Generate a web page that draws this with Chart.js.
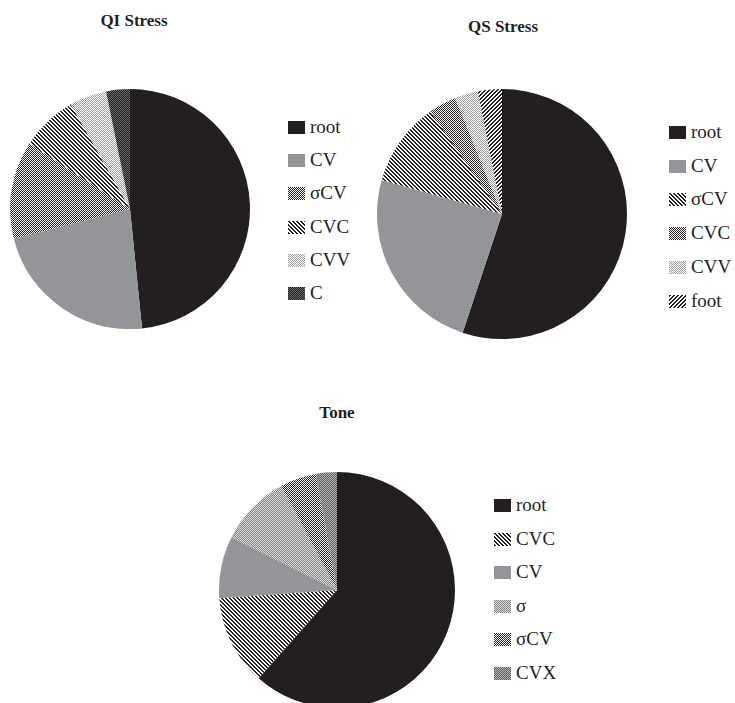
<!DOCTYPE html>
<html>
<head>
<meta charset="utf-8">
<script src="https://cdn.jsdelivr.net/npm/chart.js@4"></script>
<style>
  html, body { margin: 0; padding: 0; background: #fff; overflow: hidden; }
  body { width: 735px; height: 703px; position: relative; font-family: "Liberation Serif", "DejaVu Serif", serif; color: #231f20; }
  canvas.pie { position: absolute; }
  .title { position: absolute; width: 200px; text-align: center; font-weight: bold; font-size: 17px; line-height: 20px; }
  .row { position: absolute; font-size: 19px; line-height: 20px; white-space: nowrap; }
  .row canvas { position: absolute; left: 0; top: 4px; }
  .row span { position: absolute; top: 0; }
</style>
</head>
<body>
<script>
// Data (percent shares)
const qiLabels = ['root', 'CV', 'σCV', 'CVC', 'CVV', 'C'];
const qiValues = [48.4, 22.6, 13.2, 7.6, 5.0, 3.2];

const qsLabels = ['root', 'CV', 'σCV', 'CVC', 'CVV', 'foot'];
const qsValues = [55.1, 24.3, 10.9, 3.6, 3.0, 3.1];

const toneLabels = ['root', 'CVC', 'CV', 'σ', 'σCV', 'CVX'];
const toneValues = [61.5, 12.3, 8.5, 9.8, 4.9, 2.9];

const DARK = '#231f20';
const GRAY = '#939598';

// small bitmap tiles used as fills
function makeTile(kind) {
  const c = document.createElement('canvas');
  const n = kind.startsWith('diag') ? 4 : 2;
  c.width = n; c.height = n;
  const ctx = c.getContext('2d');
  const set = {
    checkMid:   ['#ffffff', DARK],
    checkDark:  ['#6d6a6b', DARK],
    checkLight: ['#ffffff', '#9a9a9a'],
    checkGray:  ['#e2e2e2', '#7c7c7c'],
    checkFine:  ['#b4b4b4', '#5e5e5e'],
    diagBack:   ['#ffffff', DARK],
    diagFwd:    ['#ffffff', DARK]
  }[kind];
  ctx.fillStyle = set[0];
  ctx.fillRect(0, 0, n, n);
  ctx.fillStyle = set[1];
  for (let x = 0; x < n; x++) {
    for (let y = 0; y < n; y++) {
      let on;
      if (kind === 'diagBack') on = ((x - y + 8) % 4) < 2;
      else if (kind === 'diagFwd') on = ((x + y) % 4) < 2;
      else on = (x + y) % 2 === 0;
      if (on) ctx.fillRect(x, y, 1, 1);
    }
  }
  return c;
}

function fillFor(kind, ctx) {
  if (kind === 'dark') return DARK;
  if (kind === 'gray') return GRAY;
  return ctx.createPattern(makeTile(kind), 'repeat');
}

const charts = [
  { title: 'QI Stress', labels: qiLabels, values: qiValues,
    fills: ['dark', 'gray', 'checkMid', 'diagBack', 'checkLight', 'checkDark'],
    cx: 130, cy: 209, r: 120, titleX: 134, titleY: 20.5,
    legX: 288, legY: 127, legStep: 33.2 },
  { title: 'QS Stress', labels: qsLabels, values: qsValues,
    fills: ['dark', 'gray', 'diagBack', 'checkMid', 'checkLight', 'diagFwd'],
    cx: 502, cy: 214, r: 125, titleX: 503, titleY: 27,
    legX: 669, legY: 132, legStep: 33.7 },
  { title: 'Tone', labels: toneLabels, values: toneValues,
    fills: ['dark', 'diagBack', 'gray', 'checkGray', 'checkMid', 'checkFine'],
    cx: 337, cy: 590, r: 118, titleX: 337, titleY: 413,
    legX: 494, legY: 505, legStep: 33.5 }
];

charts.forEach(cfg => {
  // title
  const t = document.createElement('div');
  t.className = 'title';
  t.textContent = cfg.title;
  t.style.left = (cfg.titleX - 100) + 'px';
  t.style.top = (cfg.titleY - 10) + 'px';
  document.body.appendChild(t);

  // pie
  const cv = document.createElement('canvas');
  cv.className = 'pie';
  cv.width = cfg.r * 2;
  cv.height = cfg.r * 2;
  cv.style.left = (cfg.cx - cfg.r) + 'px';
  cv.style.top = (cfg.cy - cfg.r) + 'px';
  document.body.appendChild(cv);
  const ctx = cv.getContext('2d');

  new Chart(ctx, {
    type: 'pie',
    data: {
      labels: cfg.labels,
      datasets: [{
        data: cfg.values,
        backgroundColor: cfg.fills.map(f => fillFor(f, ctx)),
        borderWidth: 0
      }]
    },
    options: {
      responsive: false,
      animation: false,
      layout: { padding: 0 },
      plugins: { legend: { display: false }, tooltip: { enabled: false } }
    }
  });

  // legend
  cfg.labels.forEach((lab, i) => {
    const row = document.createElement('div');
    row.className = 'row';
    row.style.left = cfg.legX + 'px';
    row.style.top = (cfg.legY + i * cfg.legStep - 10) + 'px';
    const sw = document.createElement('canvas');
    sw.width = 17; sw.height = 13;
    const sctx = sw.getContext('2d');
    sctx.fillStyle = fillFor(cfg.fills[i], sctx);
    sctx.fillRect(0, 0, 17, 13);
    const sp = document.createElement('span');
    sp.style.left = '22px';
    sp.textContent = lab;
    row.appendChild(sw);
    row.appendChild(sp);
    document.body.appendChild(row);
  });
});
</script>
</body>
</html>
